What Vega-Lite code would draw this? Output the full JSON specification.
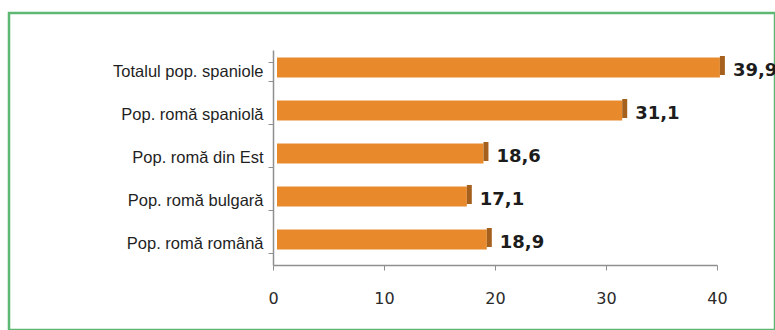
{
  "$schema": "https://vega.github.io/schema/vega-lite/v6.json",
  "autosize": "none",
  "padding": {"left": 9, "top": 13, "right": 0, "bottom": 0},
  "width": 766,
  "height": 317,
  "background": "white",
  "data": {
    "values": [
      {"grupa": "Totalul pop. spaniole", "valoare": 39.9},
      {"grupa": "Pop. romă spaniolă", "valoare": 31.1},
      {"grupa": "Pop. romă din Est", "valoare": 18.6},
      {"grupa": "Pop. romă bulgară", "valoare": 17.1},
      {"grupa": "Pop. romă română", "valoare": 18.9}
    ]
  },
  "encoding": {
    "y": {
      "field": "grupa",
      "type": "nominal",
      "sort": null,
      "title": null,
      "scale": {"range": [37, 252], "paddingInner": 0.54, "paddingOuter": 0.27},
      "axis": {
        "orient": "left",
        "offset": -264,
        "domainColor": "#8f8f8f",
        "domainWidth": 1.5,
        "tickColor": "#8f8f8f",
        "tickBand": "extent",
        "tickSize": 5,
        "labelPadding": 5,
        "labelFont": "Liberation Sans",
        "labelFontSize": 16.5,
        "labelColor": "#1f1f1f",
        "grid": false
      }
    },
    "x": {
      "field": "valoare",
      "type": "quantitative",
      "title": null,
      "scale": {"domain": [0, 40], "range": [264, 708], "nice": false, "zero": true},
      "axis": {
        "orient": "bottom",
        "offset": -65,
        "values": [0, 10, 20, 30, 40],
        "format": "d",
        "labelFlush": false,
        "domainColor": "#8f8f8f",
        "domainWidth": 1.5,
        "tickColor": "#8f8f8f",
        "tickSize": 5,
        "labelPadding": 20,
        "labelFont": "DejaVu Sans",
        "labelFontSize": 16,
        "labelColor": "#2a2a2a",
        "grid": false
      }
    }
  },
  "layer": [
    {
      "mark": {"type": "bar", "color": "#E8892C", "xOffset": 4, "x2Offset": 4, "yOffset": -4, "y2Offset": -4}
    },
    {
      "mark": {"type": "tick", "orient": "vertical", "color": "#A5601D", "opacity": 1, "thickness": 5, "size": 19, "xOffset": 6.5, "yOffset": -6}
    },
    {
      "mark": {"type": "text", "align": "left", "baseline": "middle", "dx": 17, "dy": -1, "font": "DejaVu Sans", "fontWeight": "bold", "fontSize": 18, "color": "#1c1c1c"},
      "encoding": {
        "text": {"field": "valoare", "type": "quantitative", "format": ".1f"}
      }
    }
  ],
  "config": {
    "locale": {"number": {"decimal": ",", "thousands": ".", "grouping": [3], "currency": ["", " €"]}},
    "view": {"stroke": "#5DB873", "strokeWidth": 2.5, "fill": "white"}
  }
}
